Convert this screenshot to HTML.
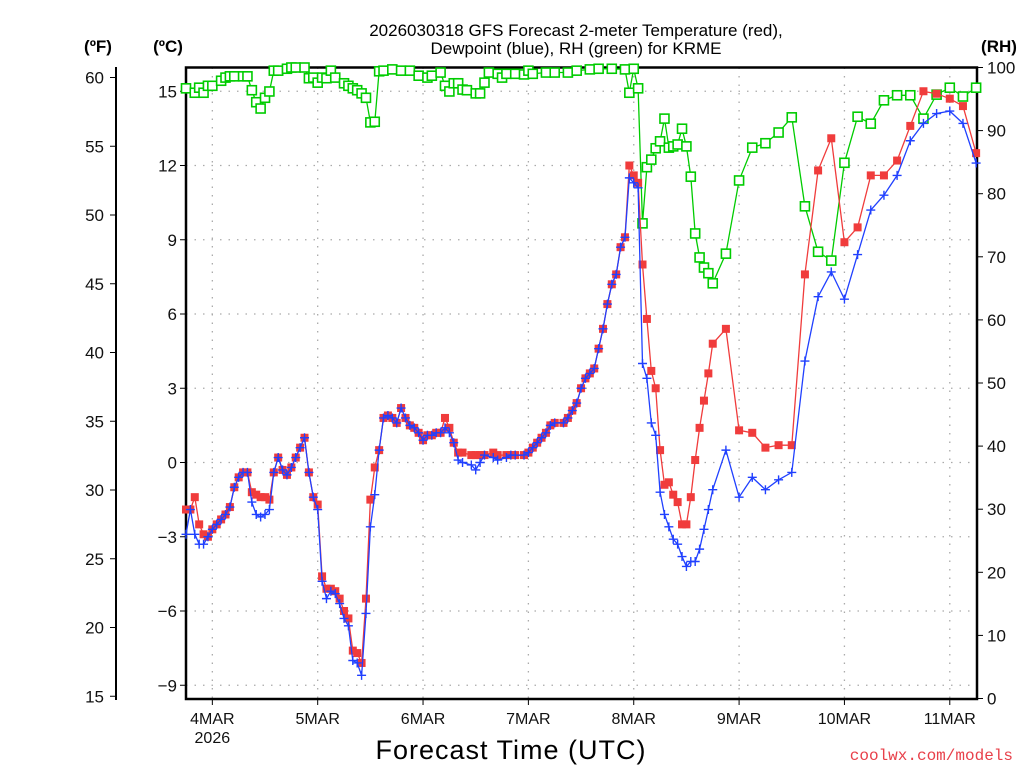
<!DOCTYPE html>
<html><head><meta charset="utf-8">
<style>
html,body{margin:0;padding:0;background:#fff;}
svg{display:block;font-family:"Liberation Sans",sans-serif;}
</style></head>
<body>
<svg id="chart" width="1024" height="768" viewBox="0 0 1024 768" xmlns="http://www.w3.org/2000/svg">
<rect width="1024" height="768" fill="#fff"/>
<text x="576" y="36" font-size="17" text-anchor="middle" fill="#000">2026030318 GFS Forecast 2-meter Temperature (red),</text>
<text x="576" y="54" font-size="17" text-anchor="middle" fill="#000">Dewpoint (blue), RH (green) for KRME</text>
<text x="98" y="52" font-size="17" font-weight="bold" text-anchor="middle">(ºF)</text>
<text x="168" y="52" font-size="17" font-weight="bold" text-anchor="middle">(ºC)</text>
<text x="999" y="52" font-size="17" font-weight="bold" text-anchor="middle">(RH)</text>
<text x="511" y="759" font-size="27" text-anchor="middle" letter-spacing="1">Forecast Time (UTC)</text>
<text x="1013" y="760" font-size="16" text-anchor="end" fill="#e8404a" font-family="Liberation Mono, monospace">coolwx.com/models</text>
<g id="grid"></g>
<g id="axes"></g>
<g id="series"></g>
</svg>
<script>
// hours from 2026-03-03 18Z
const hoursT = [0,1,2,3,4,5,6,7,8,9,10,11,12,13,14,15,16,17,18,19,20,21,22,23,24,25,26,27,28,29,30,31,32,33,34,35,36,37,38,39,40,41,42,43,
44,45,46,47,48,49,50,51,52,53,54,55,56,57,58,59,60,61,62,63,65,66,67,68,70,71,73,74,75,77,78,79,80,81,82,83,84,86,87,88,89,90,91,92,93,94,95,96,97,98,99,100,
101,102,103,104,105,106,107,108,109,110,111,112,113,114,115,116,117,118,119,120,123,126,129,132,135,138,141,144,147,150,153,156,159,162,165,168,171,174,177,180];
const tempC = [-1.9,-1.9,-1.4,-2.5,-2.9,-3.0,-2.7,-2.5,-2.3,-2.1,-1.8,-1.0,-0.6,-0.4,-0.4,-1.2,-1.3,-1.4,-1.4,-1.5,-0.4,0.2,-0.3,-0.5,-0.2,0.2,0.6,1.0,-0.4,-1.4,-1.7,-4.6,-5.1,-5.1,-5.2,-5.5,-6.0,-6.3,-7.6,-7.7,-8.1,-5.5,-1.5,-0.2,
0.5,1.8,1.9,1.8,1.6,2.2,1.8,1.5,1.4,1.2,0.9,1.1,1.1,1.2,1.2,1.8,1.4,0.8,0.4,0.4,0.3,0.3,0.3,0.3,0.4,0.3,0.3,0.3,0.3,0.3,0.4,0.6,0.8,1.0,1.2,1.5,1.6,1.6,1.8,2.1,2.4,3.0,3.4,3.6,3.8,4.6,5.4,6.4,7.2,7.6,8.7,9.1,
12.0,11.6,11.3,8.0,5.8,3.7,3.0,0.5,-0.9,-0.8,-1.3,-1.6,-2.5,-2.5,-1.4,0.1,1.4,2.5,3.6,4.8,5.4,1.3,1.2,0.6,0.7,0.7,7.6,11.8,13.1,8.9,9.5,11.6,11.6,12.2,13.6,15.0,14.9,14.7,14.4,12.5];
const dewC = [-2.9,-1.9,-2.9,-3.3,-3.3,-3.0,-2.7,-2.5,-2.3,-2.1,-1.8,-1.0,-0.6,-0.4,-0.4,-1.6,-2.1,-2.2,-2.1,-1.9,-0.4,0.2,-0.3,-0.5,-0.2,0.2,0.6,1.0,-0.4,-1.4,-1.9,-4.8,-5.5,-5.2,-5.3,-5.7,-6.3,-6.6,-8.0,-8.1,-8.6,-6.1,-2.6,-1.3,
0.5,1.8,1.9,1.8,1.6,2.2,1.8,1.5,1.4,1.2,0.9,1.1,1.1,1.2,1.2,1.4,1.2,0.8,0.1,0.0,-0.1,-0.3,0.0,0.3,0.2,0.1,0.2,0.3,0.3,0.3,0.4,0.6,0.8,1.0,1.2,1.5,1.6,1.6,1.8,2.1,2.4,3.0,3.4,3.6,3.8,4.6,5.4,6.4,7.2,7.6,8.7,9.1,
11.5,11.3,11.1,4.0,3.4,1.6,1.1,-1.2,-2.1,-2.6,-3.1,-3.3,-3.8,-4.2,-4.0,-4.0,-3.5,-2.7,-1.9,-1.1,0.5,-1.4,-0.6,-1.1,-0.7,-0.4,4.1,6.7,7.7,6.6,8.4,10.2,10.8,11.6,13.0,13.7,14.1,14.2,13.7,12.1];
const hoursRH = [0,2,3,4,5,6,8,9,10,11,13,14,15,16,17,18,19,20,21,23,24,25,27,28,29,30,31,32,33,34,36,37,38,39,40,41,42,43,44,45,47,49,51,53,55,56,58,59,60,61,62,63,64,66,67,68,69,71,72,73,75,77,78,79,82,84,87,89,92,94,97,100,
101,102,103,104,105,106,107,108,109,110,111,112,113,114,115,116,117,118,119,120,123,126,129,132,135,138,141,144,147,150,153,156,159,162,165,168,171,174,177,180];
const rhPct = [96.7,96.0,96.8,96.0,97.1,97.1,97.9,98.4,98.6,98.6,98.6,98.6,96.4,94.5,93.5,95.2,96.2,99.5,99.5,99.8,100,100,100,98.3,98.4,97.6,98.4,98.3,99.5,98.4,97.5,97.1,96.7,96.4,95.9,95.2,91.3,91.4,99.4,99.5,99.7,99.5,99.5,98.7,98.4,98.7,99.2,97.1,96.2,97.5,97.5,96.5,96.4,95.9,95.9,97.6,99.2,99.0,98.4,99.0,99.0,98.9,99.5,99.0,99.2,99.2,99.2,99.5,99.7,99.8,99.8,99.7,
96.0,99.8,96.7,75.3,84.2,85.4,87.2,88.3,91.9,87.3,87.5,87.8,90.3,87.5,82.7,73.7,69.9,68.3,67.4,65.8,70.5,82.1,87.3,88.0,89.7,92.1,78.0,70.8,69.4,84.9,92.2,91.1,94.8,95.6,95.6,91.9,95.7,96.8,95.4,96.8];
const fTicks = [15,20,25,30,35,40,45,50,55,60];
const cTicks = [-9,-6,-3,0,3,6,9,12,15];
const rhTicks = [0,10,20,30,40,50,60,70,80,90,100];
const dayTicks = [6,30,54,78,102,126,150,174];
const dayLabels = ["4MAR","5MAR","6MAR","7MAR","8MAR","9MAR","10MAR","11MAR"];

const NS="http://www.w3.org/2000/svg";
const L=186,R=977,T=67.5,B=699;
const xS=h=>L+h*(R-L)/180.2;
const yC=c=>462.5-c*24.75;
const yF=f=>yC((f-32)/1.8);
const yRH=r=>B-0.5-r*(B-0.5-T)/100;
function mk(tag,attrs,parent){const e=document.createElementNS(NS,tag);for(const k in attrs)e.setAttribute(k,attrs[k]);parent.appendChild(e);return e;}
const grid=document.getElementById('grid'),axes=document.getElementById('axes'),series=document.getElementById('series');

dayTicks.forEach((h,i)=>{
  const x=xS(h);
  const g=mk('line',{x1:x,x2:x,y1:T,y2:B,stroke:'#aaa','stroke-width':1.3,'stroke-dasharray':'1.5 7'},grid);
  
  
  const t=mk('line',{x1:x,x2:x,y1:B,y2:B+6,stroke:'#000','stroke-width':1},axes);
  
  
  const lb=mk('text',{x:x,y:724,'font-size':16,'text-anchor':'middle',fill:'#111'},axes);
  lb.textContent=dayLabels[i];
  
  
});
const yr=mk('text',{x:xS(6),y:743,'font-size':16,'text-anchor':'middle',fill:'#111'},axes);
yr.textContent='2026';



cTicks.forEach(c=>{
  const y=yC(c);
  const g=mk('line',{x1:L,x2:R,y1:y,y2:y,stroke:'#aaa','stroke-width':1.3,'stroke-dasharray':'1.5 7'},grid);
  
  
  const t=mk('line',{x1:L-6,x2:L,y1:y,y2:y,stroke:'#000','stroke-width':1},axes);
  
  
  const lb=mk('text',{x:L-9,y:y+6,'font-size':17,'text-anchor':'end',fill:'#111'},axes);
  lb.textContent=c<0?'\u2212'+(-c):String(c);
  
  
});
fTicks.forEach(f=>{
  const y=yF(f);
  const t=mk('line',{x1:110,x2:116,y1:y,y2:y,stroke:'#000','stroke-width':1},axes);
  
  
  const lb=mk('text',{x:104,y:y+6,'font-size':17,'text-anchor':'end',fill:'#111'},axes);
  lb.textContent=String(f);
  
  
});
const fax=mk('line',{x1:116,x2:116,y1:67,y2:700,stroke:'#000','stroke-width':2},axes);


rhTicks.forEach(r=>{
  const y=yRH(r);
  const t=mk('line',{x1:R,x2:R+6,y1:y,y2:y,stroke:'#000','stroke-width':1},axes);
  
  
  const lb=mk('text',{x:R+10,y:y+6,'font-size':17,'text-anchor':'start',fill:'#111'},axes);
  lb.textContent=String(r);
  
  
});
const frame=mk('rect',{x:L,y:T,width:R-L,height:B-T,fill:'none',stroke:'#000','stroke-width':2.5},axes);



function poly(hs,vs,yf,color,name){
  const pts=hs.map((h,i)=>xS(h).toFixed(1)+','+yf(vs[i]).toFixed(1)).join(' ');
  const p=mk('polyline',{points:pts,fill:'none',stroke:color,'stroke-width':1.3},series);
  
  
}
// RH
poly(hoursRH,rhPct,yRH,'#00cc00','rh-line');
hoursRH.forEach((h,i)=>{
  const x=xS(h),y=yRH(rhPct[i]);
  const m=mk('rect',{x:x-4.5,y:y-4.5,width:9,height:9,fill:'#fff',stroke:'#00cc00','stroke-width':1.6},series);
  
  
});
// Temperature
poly(hoursT,tempC,yC,'#f03c3c','temperature-line');
hoursT.forEach((h,i)=>{
  const x=xS(h),y=yC(tempC[i]);
  const m=mk('rect',{x:x-4,y:y-4,width:8,height:8,fill:'#f03c3c'},series);
  
  
});
// Dewpoint
poly(hoursT,dewC,yC,'#2040ff','dewpoint-line');
hoursT.forEach((h,i)=>{
  const x=xS(h),y=yC(dewC[i]);
  const m=mk('path',{d:`M${x-4.5},${y}H${x+4.5}M${x},${y-4.5}V${y+4.5}`,stroke:'#2040ff','stroke-width':1.4,fill:'none'},series);
  
  
});
</script>
</body></html>
